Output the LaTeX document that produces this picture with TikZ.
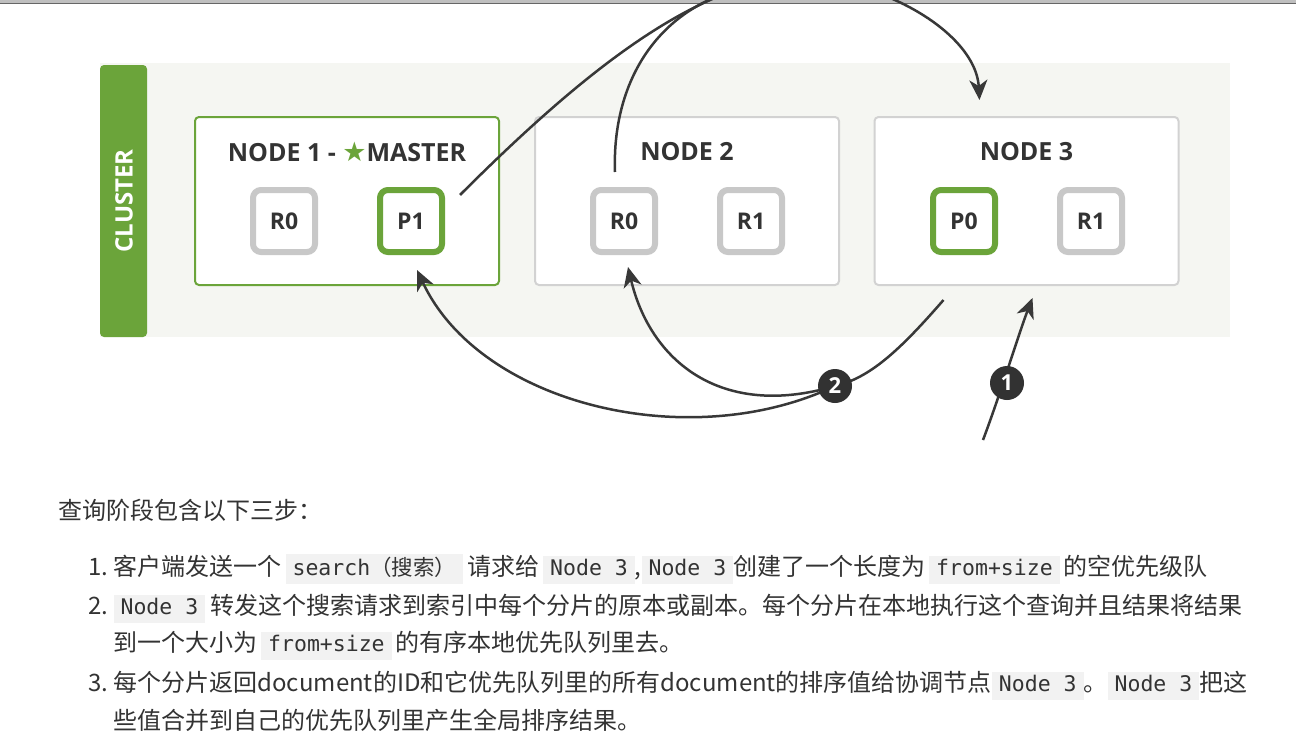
\documentclass[tikz,border=0pt]{standalone}
\usepackage{fontspec}
\setmainfont{Noto Sans CJK SC}
\setmonofont{DejaVu Sans Mono}
\newfontfamily\headfont{Open Sans}
\newfontfamily\symfont{DejaVu Sans}
\usetikzlibrary{arrows.meta}
\usetikzlibrary{calc,positioning}
\definecolor{esgreen}{HTML}{6BA43A}
\definecolor{clusterbg}{HTML}{F5F6F2}
\definecolor{boxgray}{HTML}{D2D2D2}
\definecolor{shardgray}{HTML}{C8C8C8}
\definecolor{inkgray}{HTML}{383838}
\definecolor{textgray}{HTML}{333333}
\definecolor{codebg}{HTML}{F2F2F2}
\newcommand\code[1]{{\setlength\fboxsep{3pt}\colorbox{codebg}{\hspace{4pt}\vrule height 16pt depth 6pt width 0pt\ttfamily\fontsize{21.5}{24}\selectfont #1\hspace{4pt}}}}

\begin{document}
\begin{tikzpicture}[
  x=1pt, y=-1pt,
  nodebox/.style={draw=boxgray, line width=2pt, rounded corners=4pt, fill=white,
    minimum width=304pt, minimum height=168pt},
  masterbox/.style={nodebox, draw=esgreen},
  title/.style={font=\headfont\bfseries\fontsize{25}{28}\selectfont, text=textgray, inner sep=0pt},
  shard/.style={draw=shardgray, line width=6pt, rounded corners=8pt, fill=white,
    minimum size=62pt, inner sep=0pt, font=\headfont\bfseries\fontsize{23}{26}\selectfont, text=textgray},
  primary/.style={shard, draw=esgreen},
  flow/.style={draw=inkgray, line width=2.5pt, -{Stealth[length=20pt,width=18pt,inset=6pt]}},
  stepnum/.style={circle, fill=inkgray!90!black, text=white, minimum size=34pt, inner sep=0pt,
    font=\headfont\bfseries\fontsize{22}{24}\selectfont},
  line/.style={anchor=base west, inner sep=0pt, text=textgray, font=\fontsize{24}{28}\selectfont}
]
\clip (0,0) rectangle (1296,744);
\fill[white] (0,0) rectangle (1296,744);
% window edge
\fill[black!25] (0,0) rectangle (1296,2.5);
\draw[black!60, line width=1.5pt] (0,3.5) -- (1296,3.5);

% cluster
\fill[clusterbg] (100,63) rectangle (1230,337);
\fill[esgreen, rounded corners=4pt] (100,65) rectangle (147,337);
\node[rotate=90, text=white, font=\headfont\bfseries\fontsize{24}{26}\selectfont] (cluster) at (124,201) {CLUSTER};

% nodes
\node[masterbox] (node1) at (347,201) {};
\node[nodebox] (node2) at (687,201) {};
\node[nodebox] (node3) at (1026.5,201) {};
\node[title] (title1) at ($(node1.north)+(0,36)$) {NODE 1 - {\symfont\color{esgreen}\fontsize{27}{28}\selectfont ★}MASTER};
\node[title] (title2) at ($(node2.north)+(0,36)$) {NODE 2};
\node[title] (title3) at ($(node3.north)+(0,36)$) {NODE 3};

% shards
\node[shard] (r0a) at ($(node1)+(-63,20)$) {R0};
\node[primary] (p1) at ($(node1)+(64,20)$) {P1};
\node[shard] (r0b) at ($(node2)+(-63,20)$) {R0};
\node[shard] (r1b) at ($(node2)+(64,20)$) {R1};
\node[primary] (p0) at ($(node3)+(-62.5,20)$) {P0};
\node[shard] (r1c) at ($(node3)+(64.5,20)$) {R1};

% connector ends
\coordinate (client) at (983,440);
\coordinate (n3in) at ($(node3.south)+(6,12)$);
\coordinate (n3out) at ($(node3.south west)+(70,14)$);
\coordinate (r0tip) at ($(r0b.south)+(4,12)$);
\coordinate (p1tip) at ($(p1.south)+(6,15)$);
\coordinate (p1out) at ($(p1.east)+(15,-26)$);
\coordinate (r0out) at ($(r0b.north)+(-9,-15)$);
\coordinate (top) at (735,-10);
\coordinate (n3top) at ($(node3.north)+(-47,-16)$);

% step 1
\draw[flow] (client) .. controls (1000,395) and (1020,330) .. (n3in);
\node[stepnum] (step1) at (1007,383) {1};

% step 2
\draw[draw=inkgray, line width=2.5pt] (n3out) .. controls (900,350) and (870,378) .. (835,386);
\draw[flow] (835,386) .. controls (720,420) and (650,360) .. (r0tip);
\draw[flow] (835,386) .. controls (690,455) and (480,405) .. (p1tip);
\node[stepnum] (step2) at (835,386) {2};

% step 3
\draw[draw=inkgray, line width=2.5pt] (p1out) .. controls (560,95) and (650,20) .. (top);
\draw[draw=inkgray, line width=2.5pt] (r0out) .. controls (612,90) and (650,15) .. (top);
\draw[flow] (top) .. controls (830,-50) and (975,20) .. (n3top);

% text
\node[line] (head) at (58,519) {查询阶段包含以下三步：};
\node[line] (item1) at (88,575) {1.\ 客户端发送一个\,\code{search{\rmfamily （搜索）}}\,请求给\,\code{Node~3},\code{Node~3}创建了一个长度为\,\code{from+size}\,的空优先级队};
\node[line] (item2) at (88,614) {2.\ \code{Node~3}\ 转发这个搜索请求到索引中每个分片的原本或副本。每个分片在本地执行这个查询并且结果将结果};
\node[line] (item2b) at (113,651) {到一个大小为\,\code{from+size}\,的有序本地优先队列里去。};
\node[line] (item3) at (88,691) {3.\ 每个分片返回document的ID和它优先队列里的所有document的排序值给协调节点\code{Node~3}。\code{Node~3}把这};
\node[line] (item3b) at (113,729) {些值合并到自己的优先队列里产生全局排序结果。};
\end{tikzpicture}
\end{document}
